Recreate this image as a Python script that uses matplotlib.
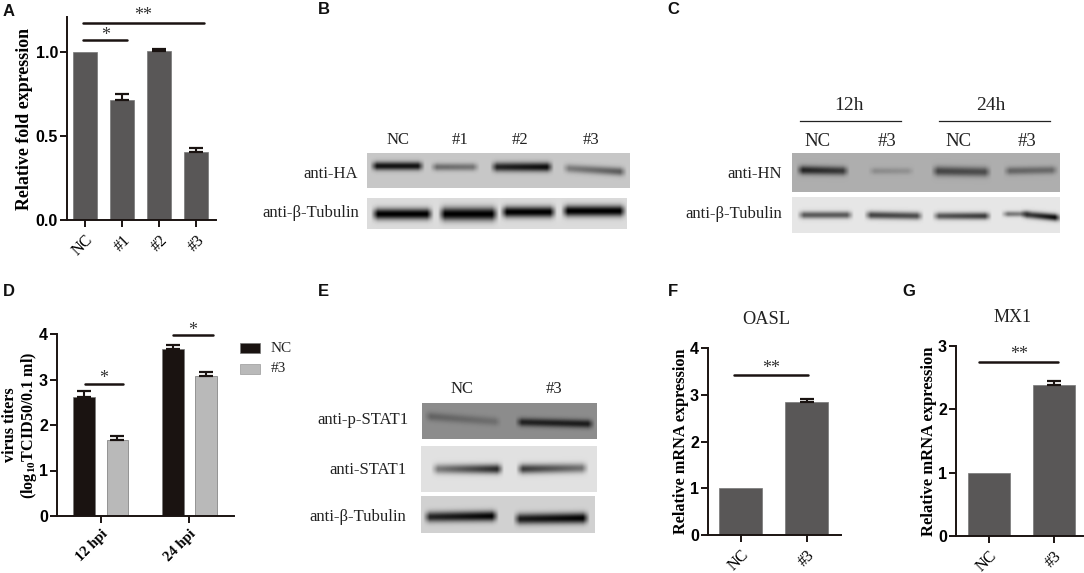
import numpy as np
import matplotlib
matplotlib.use('Agg')
import matplotlib.pyplot as plt
from matplotlib.patches import Rectangle

plt.rcParams['font.family'] = ['Liberation Serif', 'DejaVu Serif']
plt.rcParams['mathtext.default'] = 'regular'

W, H = 1084, 573

# bar panels
a_labels = ['NC', '#1', '#2', '#3']
a_values = [1.0, 0.716, 1.008, 0.403]
a_errors = [0, 0.036, 0.012, 0.027]

d_groups = ['12 hpi', '24 hpi']
d_nc = [2.62, 3.68]
d_nc_err = [0.13, 0.08]
d_three = [1.68, 3.08]
d_three_err = [0.07, 0.09]

f_labels = ['NC', '#3']
f_values = [1.0, 2.85]
f_errors = [0, 0.055]

g_labels = ['NC', '#3']
g_values = [1.0, 2.39]
g_errors = [0, 0.06]

# blot bands: left, right, y at left, y at right, dark at left, dark at right, thickness
b_ha = [(370, 425, 166, 166, .9, .9, 4.2), (430, 480, 167, 167, .45, .4, 3.8),
        (490, 554, 167, 167, .8, .95, 4.6), (562, 627, 168, 172, .35, .55, 4.2)]
b_tub = [(371, 434, 214, 214, 1., 1., 5.5), (438, 499, 214, 214, 1., 1., 6.5),
         (500, 557, 212, 212, 1., 1., 5.5), (561, 627, 211, 211, 1., 1., 5.5)]
c_hn = [(796, 850, 170, 171, .8, .65, 4.4), (868, 915, 171, 171, .2, .15, 3.4),
        (931, 992, 171, 172, .6, .55, 4.8), (1003, 1059, 171, 170, .42, .38, 4.0)]
c_tub = [(797, 854, 215, 215, .6, .6, 3.6), (864, 924, 215, 216, .7, .65, 3.8),
         (932, 992, 216, 216, .6, .75, 3.6), (1001, 1032, 214, 214, .5, .4, 2.8),
         (1020, 1062, 214, 218, .65, 1., 3.6)]
e_pstat = [(424, 502, 416, 422, .3, .2, 4.4), (515, 595, 422, 424, .75, .8, 4.2)]
e_stat = [(431, 504, 469, 469, .4, .85, 4.8), (516, 589, 469, 468, .75, .45, 4.8)]
e_tub = [(423, 499, 517, 516, .8, 1., 5.2), (513, 590, 519, 518, .85, 1., 5.4)]

# blot panels: x0, x1, y0, y1, background grey, bands
blots = [(367, 630, 153, 188, .78, b_ha), (367, 627, 198, 229, .86, b_tub),
         (792, 1060, 153, 192, .68, c_hn), (792, 1060, 197, 233, .90, c_tub),
         (422, 597, 403, 439, .55, e_pstat), (421, 597, 446, 492, .88, e_stat),
         (421, 595, 496, 533, .82, e_tub)]

dark = '#595757'
black = '#1a1311'
sans = ['Liberation Sans', 'DejaVu Sans']

fig = plt.figure(figsize=(W / 100, H / 100), dpi=100)

# whole-figure axes in pixel coordinates for blots and free text
page = fig.add_axes([0, 0, 1, 1], zorder=0)
page.set_xlim(0, W)
page.set_ylim(H, 0)
page.axis('off')


def draw_blot(x0, x1, y0, y1, bg, bands):
    xs, ys = np.meshgrid(np.arange(x0, x1) + .5, np.arange(y0, y1) + .5)
    img = np.full(xs.shape, float(bg))
    for left, right, yl, yr, dl, dr, th in bands:
        t = np.clip((xs - left) / (right - left), 0, 1)
        edge = np.clip((xs - left) / 7, 0, 1) * np.clip((right - xs) / 7, 0, 1)
        yc = yl + (yr - yl) * t
        d = dl + (dr - dl) * t
        img -= img * d * edge * np.exp(-((ys - yc) / th) ** 2)
    page.imshow(img, extent=(x0, x1, y1, y0), cmap='gray', vmin=0, vmax=1,
                interpolation='bilinear', aspect='auto')


for b in blots:
    draw_blot(*b)
page.set_xlim(0, W)
page.set_ylim(H, 0)


def panel_axes(x0, x1, y0, y1):
    ax = fig.add_axes([x0 / W, 1 - y0 / H, (x1 - x0) / W, (y0 - y1) / H], zorder=2)
    ax.patch.set_alpha(0)
    for s in ['top', 'right']:
        ax.spines[s].set_visible(False)
    for s in ['left', 'bottom']:
        ax.spines[s].set_linewidth(1.4)
        ax.spines[s].set_color(black)
    ax.tick_params(width=1.4, length=5, color=black)
    return ax


def style_ticks(ax, yticks, yfmt, labels, size=11.5, weight='normal'):
    ax.set_yticks(yticks)
    ax.set_yticklabels([yfmt % v for v in yticks], family=sans, weight='bold', fontsize=11.5)
    ax.tick_params(axis='y', pad=1.5)
    ax.set_xticklabels(labels, rotation=45, ha='right', rotation_mode='anchor',
                       fontsize=size, weight=weight)


def sig(ax, x0, x1, y, stars, off=3.5):
    ax.plot([x0, x1], [y, y], color=black, lw=1.8, clip_on=False, solid_capstyle='round')
    ax.annotate(stars, ((x0 + x1) / 2, y), xytext=(0, off), textcoords='offset points',
                ha='center', va='center', fontsize=13, color='#333333', annotation_clip=False)


def bars(ax, x, vals, errs, color, width):
    x = np.asarray(x)
    vals = np.asarray(vals)
    errs = np.asarray(errs)
    ax.bar(x, vals, width=width, color=color, edgecolor='#777777', linewidth=.5)
    keep = errs > 0
    ax.errorbar(x[keep], vals[keep], yerr=[np.zeros(keep.sum()), errs[keep]], fmt='none',
                ecolor=black, elinewidth=1.5, capsize=5, capthick=1.6)


# A
ax = panel_axes(67, 216, 220, 17)
bars(ax, np.arange(4), a_values, a_errors, dark, .65)
ax.set_xlim(-.495, 3.53)
ax.set_ylim(0, 1.21)
ax.set_xticks(range(4))
style_ticks(ax, [0, .5, 1], '%.1f', a_labels)
ax.set_ylabel('Relative fold expression', fontsize=12.9, weight='bold', labelpad=2)
sig(ax, -.06, 3.2, 1.173, '**', off=5.5)
sig(ax, -.06, 1.13, 1.072, '*', off=3)

# D
ax = panel_axes(57, 234, 516, 334)
x = np.arange(2)
bars(ax, x - .188, d_nc, d_nc_err, black, .245)
bars(ax, x + .188, d_three, d_three_err, '#b9b9b9', .245)
ax.set_xlim(-.493, 1.503)
ax.set_ylim(0, 4)
ax.set_xticks(x)
style_ticks(ax, [0, 1, 2, 3, 4], '%d', d_groups, size=10.5, weight='bold')
ax.set_ylabel('virus titers\n(log$_{10}$TCID50/0.1 ml)', fontsize=11.6, weight='bold',
              labelpad=0, linespacing=1.05)
sig(ax, -.175, .25, 2.91, '*')
sig(ax, .81, 1.27, 3.97, '*')

# F
ax = panel_axes(708, 841, 535, 348)
bars(ax, np.arange(2), f_values, f_errors, dark, .656)
ax.set_xlim(-.497, 1.52)
ax.set_ylim(0, 4)
ax.set_xticks([0, 1])
style_ticks(ax, [0, 1, 2, 3, 4], '%d', f_labels)
ax.set_ylabel('Relative mRNA expression', fontsize=11.7, weight='bold', labelpad=1)
sig(ax, -.1, 1.02, 3.42, '**', off=5)

# G
ax = panel_axes(956, 1083, 536, 346)
bars(ax, np.arange(2), g_values, g_errors, dark, .65)
ax.set_xlim(-.51, 1.45)
ax.set_ylim(0, 3)
ax.set_xticks([0, 1])
style_ticks(ax, [0, 1, 2, 3], '%d', g_labels)
ax.set_ylabel('Relative mRNA expression', fontsize=12, weight='bold', labelpad=1)
sig(ax, -.15, 1.07, 2.75, '**', off=5)

# legend of D
page.add_patch(Rectangle((240, 343), 20, 10, fc=black, ec='#777777', lw=.5))
page.add_patch(Rectangle((240, 364), 20, 10, fc='#b9b9b9', ec='#999999', lw=.5))


def label(x, y, s, ha='center', size=12, **kw):
    page.text(x, y, s, ha=ha, va='center', fontsize=size, color='#222222', **kw)


label(271, 348, 'NC', ha='left', size=11)
label(271, 369, '#3', ha='left', size=11)

# panel letters
for s, x, y in [('A', 3, 12), ('B', 318, 9), ('C', 667, 9), ('D', 3, 292),
                ('E', 318, 291), ('F', 668, 292), ('G', 902, 292)]:
    page.text(x, y, s, family=sans, weight='bold', fontsize=12, ha='left', va='center', color='#111111')

# blot labels
for s, x in zip(['NC', '#1', '#2', '#3'], [398, 460, 520, 591]):
    label(x, 140, s)
label(358, 174, 'anti-HA', ha='right')
label(359, 213, 'anti-β-Tubulin', ha='right')

label(849, 106, '12h', size=14)
label(991, 106, '24h', size=14)
page.plot([800, 901], [120.7, 120.7], color='#222222', lw=.9)
page.plot([939, 1050], [120.7, 120.7], color='#222222', lw=.9)
for s, x in zip(['NC', '#3', 'NC', '#3'], [818, 887, 959, 1027]):
    label(x, 141, s, size=13.5)
label(782, 174, 'anti-HN', ha='right')
label(782, 214, 'anti-β-Tubulin', ha='right')

label(462, 389, 'NC')
label(554, 389, '#3')
label(408, 420, 'anti-p-STAT1', ha='right')
label(406, 470, 'anti-STAT1', ha='right')
label(406, 517, 'anti-β-Tubulin', ha='right')

label(766, 320, 'OASL', size=13.2)
label(1013, 317, 'MX1', size=13)

fig.savefig('out.png', dpi=100)
